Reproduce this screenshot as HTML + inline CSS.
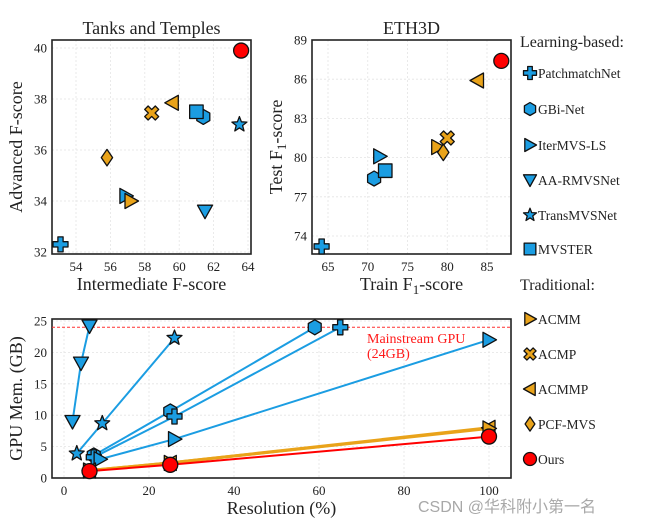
<!DOCTYPE html>
<html><head><meta charset="utf-8"><style>
body{margin:0;background:#fff;}
svg{display:block;font-family:"Liberation Serif",serif;}
</style></head><body>
<svg id="fig" width="645" height="524" viewBox="0 0 645 524" xmlns="http://www.w3.org/2000/svg"></svg>
<script>
const methods = ["PatchmatchNet","GBi-Net","IterMVS-LS","AA-RMVSNet","TransMVSNet","MVSTER","ACMM","ACMP","ACMMP","PCF-MVS","Ours"];
const markers = ["plus","hex","right","down","star","square","right","x","left","diamond","circle"];
const ttInter = [53.1,61.4,56.9,61.5,63.5,61.0,57.2,58.4,59.6,55.8,63.6];
const ttAdv   = [32.3,37.3,34.2,33.6,37.0,37.5,34.0,37.45,37.85,35.7,39.9];
const ethTrain = [64.2,70.8,71.5,null,null,72.2,78.8,80.0,83.8,79.5,86.8];
const ethTest  = [73.2,78.4,80.1,null,null,79.0,80.8,81.5,85.9,80.4,87.4];
const ttXTicks=[54,56,58,60,62,64], ttYTicks=[32,34,36,38,40];
const ethXTicks=[65,70,75,80,85], ethYTicks=[74,77,80,83,86,89];
const memRes = {
 "AA-RMVSNet":[2,4,6], "TransMVSNet":[3,9,26], "GBi-Net":[7,25,59],
 "PatchmatchNet":[7,26,65], "IterMVS-LS":[8.5,26,100], "ACMMP":[6,25,100], "ACMM":[6,25,100], "Ours":[6,25,100]};
const memGB = {
 "AA-RMVSNet":[9,18.3,24.2], "TransMVSNet":[3.9,8.7,22.3], "GBi-Net":[3.6,10.6,24],
 "PatchmatchNet":[3.3,9.8,24], "IterMVS-LS":[3,6.2,22], "ACMMP":[1.2,2.4,8], "ACMM":[1.2,2.4,7.9], "Ours":[1.1,2.1,6.6]};
const memXTicks=[0,20,40,60,80,100], memYTicks=[0,5,10,15,20,25];
const limitGB = 24;

const BLUE="#1b9de2", ORANGE="#e9a31a", RED="#ff0000";
const colors=[BLUE,BLUE,BLUE,BLUE,BLUE,BLUE,ORANGE,ORANGE,ORANGE,ORANGE,RED];
const NS="http://www.w3.org/2000/svg";
const svg=document.getElementById('fig');
function el(tag,attrs,parent){const e=document.createElementNS(NS,tag);for(const k in attrs)e.setAttribute(k,attrs[k]);(parent||svg).appendChild(e);return e;}
function txt(s,x,y,size,anchor,parent,extra){const t=el('text',Object.assign({x:x,y:y,'font-size':size,'text-anchor':anchor||'middle',fill:'#222'},extra||{}),parent);t.textContent=s;return t;}

function marker(type,x,y,s,color,parent){
  const a={fill:color,stroke:'#111','stroke-width':1.3,'stroke-linejoin':'round'};
  let e;
  const pts=p=>p.map(q=>(x+q[0]*s).toFixed(1)+","+(y+q[1]*s).toFixed(1)).join(" ");
  if(type==="circle") e=el('circle',Object.assign({cx:x,cy:y,r:s},a),parent);
  else if(type==="square") e=el('rect',Object.assign({x:x-s*0.9,y:y-s*0.9,width:s*1.8,height:s*1.8},a),parent);
  else if(type==="hex"){const p=[];for(let i=0;i<6;i++){const an=Math.PI/6+i*Math.PI/3;p.push([Math.cos(an),Math.sin(an)]);}e=el('polygon',Object.assign({points:pts(p)},a),parent);}
  else if(type==="right") e=el('polygon',Object.assign({points:pts([[-0.8,-1],[1,0],[-0.8,1]])},a),parent);
  else if(type==="left") e=el('polygon',Object.assign({points:pts([[0.8,-1],[-1,0],[0.8,1]])},a),parent);
  else if(type==="down") e=el('polygon',Object.assign({points:pts([[-1,-0.8],[1,-0.8],[0,1]])},a),parent);
  else if(type==="diamond") e=el('polygon',Object.assign({points:pts([[0,-1.1],[0.75,0],[0,1.1],[-0.75,0]])},a),parent);
  else if(type==="plus"){const w=0.35;e=el('polygon',Object.assign({points:pts([[-w,-1],[w,-1],[w,-w],[1,-w],[1,w],[w,w],[w,1],[-w,1],[-w,w],[-1,w],[-1,-w],[-w,-w]])},a),parent);}
  else if(type==="x"){const p=[];const w=0.32;const base=[[-w,-1],[w,-1],[w,-w],[1,-w],[1,w],[w,w],[w,1],[-w,1],[-w,w],[-1,w],[-1,-w],[-w,-w]];const c=Math.cos(Math.PI/4),sn=Math.sin(Math.PI/4);base.forEach(q=>p.push([q[0]*c-q[1]*sn,q[0]*sn+q[1]*c]));e=el('polygon',Object.assign({points:pts(p)},a),parent);}
  else if(type==="star"){const p=[];for(let i=0;i<10;i++){const r=i%2?0.45:1.05;const an=-Math.PI/2+i*Math.PI/5;p.push([r*Math.cos(an),r*Math.sin(an)]);}e=el('polygon',Object.assign({points:pts(p)},a),parent);}
  return e;
}

function axes(g,box,xd,yd,xt,yt,xl,yl,title){
  const sx=v=>box.x+(v-xd[0])/(xd[1]-xd[0])*box.w;
  const sy=v=>box.y+box.h-(v-yd[0])/(yd[1]-yd[0])*box.h;
  xt.forEach(v=>{const gl=el('line',{x1:sx(v),x2:sx(v),y1:box.y,y2:box.y+box.h,stroke:'#e4e4e4','stroke-dasharray':'2,2','stroke-width':0.8},g);
    const t=txt(String(v),sx(v),box.y+box.h+17,13,'middle',g);});
  yt.forEach(v=>{const gl=el('line',{x1:box.x,x2:box.x+box.w,y1:sy(v),y2:sy(v),stroke:'#e4e4e4','stroke-dasharray':'2,2','stroke-width':0.8},g);
    const t=txt(String(v),box.x-5,sy(v)+4.5,13,'end',g);});
  const f=el('rect',{x:box.x,y:box.y,width:box.w,height:box.h,fill:'none',stroke:'#222','stroke-width':1.6},g);
  
  if(title){const t=txt(title,box.x+box.w/2,box.y-6,18,'middle',g);}
  const xlab=el('text',{x:box.x+box.w/2,y:box.y+box.h+36,'font-size':18,'text-anchor':'middle',fill:'#222'},g);xlab.innerHTML=xl;
  
  const ylab=el('text',{x:0,y:0,'font-size':18,'text-anchor':'middle',fill:'#222',transform:`translate(${box.x-30},${box.y+box.h/2}) rotate(-90)`},g);ylab.innerHTML=yl;
  
  return {sx,sy};
}

const MS=7.5;
// Tanks and Temples
const g1=el('g',{});
const box1={x:52,y:40,w:199,h:214};
const a1=axes(g1,box1,[54-24/17.2,64+3/17.2],[32-2/25.5,40+8/25.5],ttXTicks,ttYTicks,'Intermediate F-score','Advanced F-score','Tanks and Temples');
methods.forEach((m,i)=>{const mk=marker(markers[i],a1.sx(ttInter[i]),a1.sy(ttAdv[i]),MS,colors[i],g1);
  });

// ETH3D
const g2=el('g',{});
const box2={x:312,y:40,w:199,h:214};
const a2=axes(g2,box2,[65-16/7.95,85+24/7.95],[74-18/13.07,89],ethXTicks,ethYTicks,'Train F<tspan font-size="13" dy="4">1</tspan><tspan dy="-4">-score</tspan>','Test F<tspan font-size="13" dy="4">1</tspan><tspan dy="-4">-score</tspan>','ETH3D');
methods.forEach((m,i)=>{if(ethTrain[i]===null)return;const mk=marker(markers[i],a2.sx(ethTrain[i]),a2.sy(ethTest[i]),MS,colors[i],g2);
  });

// Memory chart
const g3=el('g',{});
const box3={x:52,y:319,w:459,h:159};
const a3=axes(g3,box3,[-12/4.25,100+22/4.25],[0,25+2/6.28],memXTicks,memYTicks,'Resolution (%)','GPU Mem. (GB)',null);
const lim=el('line',{x1:box3.x,x2:box3.x+box3.w,y1:a3.sy(limitGB),y2:a3.sy(limitGB),stroke:'#ff3030','stroke-dasharray':'3,2','stroke-width':1},g3);

const an1=txt('Mainstream GPU',367,343,14,'start',g3,{fill:'#ff1a1a'});
const an2=txt('(24GB)',367,358,14,'start',g3,{fill:'#ff1a1a'});
const order=["AA-RMVSNet","TransMVSNet","GBi-Net","PatchmatchNet","IterMVS-LS","ACMMP","ACMM","Ours"];
order.forEach(m=>{const i=methods.indexOf(m);const xs=memRes[m],ys=memGB[m];
  const p=xs.map((v,j)=>a3.sx(v).toFixed(1)+","+a3.sy(ys[j]).toFixed(1)).join(" ");
  const ln=el('polyline',{points:p,fill:'none',stroke:colors[i],'stroke-width':colors[i]===ORANGE?3:2},g3);
  });
order.forEach(m=>{const i=methods.indexOf(m);const xs=memRes[m],ys=memGB[m];
  xs.forEach((v,j)=>{const mk=marker(markers[i],a3.sx(v),a3.sy(ys[j]),MS,colors[i],g3);
   });});

// Legend
const lg=el('g',{});
const h1=txt('Learning-based:',520,47,16,'start',lg);
const h2=txt('Traditional:',520,290,16,'start',lg);
const legY=[73,109,145,180,215,249,319,354,389,424,459];
methods.forEach((m,i)=>{const y=legY[i];
  const mk=marker(markers[i],530,y,6.5,colors[i],lg);
  const t=txt(m,538,y+5,13.5,'start',lg);});

const wm=el('text',{x:418,y:512,'font-size':16,fill:'#a8a8a8','font-family':'"Liberation Sans","Noto Sans CJK SC",sans-serif'});wm.textContent='CSDN @华科附小第一名';

</script>
</body></html>
